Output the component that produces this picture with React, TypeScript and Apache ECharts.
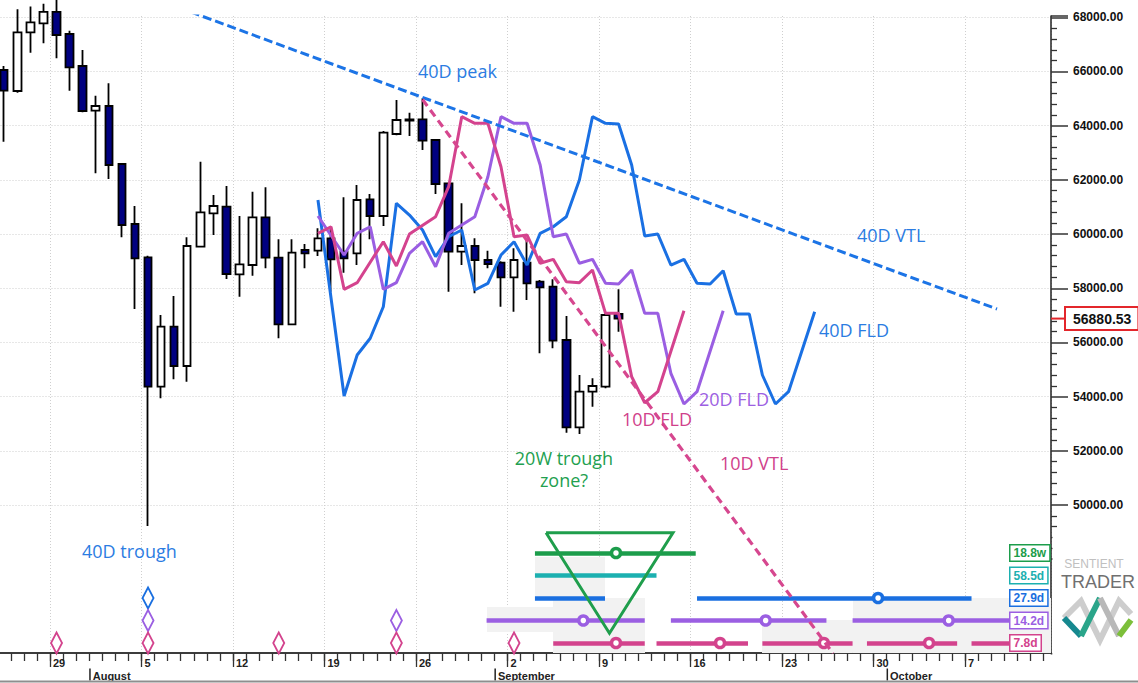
import { useEffect, useRef } from 'react';
import * as echarts from 'echarts';

// ---------- DATA ----------
const DAY0 = Date.UTC(2024, 6, 29); // 29 July 2024 = day 0
const toDay = (iso: string) => Math.round((Date.parse(iso + 'T00:00:00Z') - DAY0) / 86400000);

const candleDates = [
  '2024-07-25', '2024-07-26', '2024-07-27', '2024-07-28', '2024-07-29', '2024-07-30', '2024-07-31',
  '2024-08-01', '2024-08-02', '2024-08-03', '2024-08-04', '2024-08-05', '2024-08-06', '2024-08-07',
  '2024-08-08', '2024-08-09', '2024-08-10', '2024-08-11', '2024-08-12', '2024-08-13', '2024-08-14',
  '2024-08-15', '2024-08-16', '2024-08-17', '2024-08-18', '2024-08-19', '2024-08-20', '2024-08-21',
  '2024-08-22', '2024-08-23', '2024-08-24', '2024-08-25', '2024-08-26', '2024-08-27', '2024-08-28',
  '2024-08-29', '2024-08-30', '2024-08-31',
  '2024-09-01', '2024-09-02', '2024-09-03', '2024-09-04', '2024-09-05', '2024-09-06', '2024-09-07',
  '2024-09-08', '2024-09-09', '2024-09-10',
];
const opens = [
  66055, 65280, 67446, 67779, 68200, 67384, 66203,
  64553, 64726, 62586, 60371, 59142, 54366, 56581, 55130, 59533, 60766,
  61009, 58515, 58858, 60618, 59127, 56669, 59411, 59386, 59843, 59349,
  59290, 61283, 60667, 63693, 64184, 64235, 63471, 61873, 59349, 59559, 59042,
  58943, 58404, 58943, 58241, 58057, 56090, 52868, 54182, 54366, 57049,
];
const closes = [
  65291, 67446, 67815, 68200, 67347, 66155, 64542,
  64726, 62549, 60334, 59105, 54366, 56581, 55130, 59559, 60803, 61035,
  58526, 58884, 60618, 59127, 56669, 59312, 59290, 59843, 59068, 59105,
  61257, 60667, 63741, 64210, 64235, 63446, 61847, 59349, 59559, 59042, 58895,
  58404, 59042, 58182, 58035, 56064, 52868, 54182, 54392, 57012, 56880.53,
];
const lows = [
  63409, 65217, 66693, 67040, 66487, 65291, 64500,
  62242, 62032, 59880, 57234, 49225, 53938, 54640, 54551, 59500, 59965,
  58341, 57688, 58463, 58736, 56153, 56643, 58736, 59190, 57872, 58574,
  58858, 59806, 60297, 63650, 63619, 63102, 61478, 57872, 58858, 57813, 58736,
  57319, 57134, 57566, 55599, 55784, 52668, 52621, 53628, 54307, 56396,
];
const highs = [
  66200, 68300, 68400, 68500, 69000, 67505, 66793,
  65106, 65564, 62600, 61035, 59200, 57012, 57714, 59880, 62671, 61441,
  61774, 60666, 61563, 61726, 59806, 59806, 59633, 60212, 60223, 61357,
  61811, 61478, 63800, 64948, 64479, 65010, 63500, 61900, 61135, 59843, 59386,
  59000, 59474, 59781, 58300, 58330, 56975, 54798, 54676, 57100, 57961,
];

const fldStart = '2024-08-18';
const fld40Values = [
  61257, null, 54023, 55536, 56153, 57319, 61135, 60703, 60150, 59164,
  59902, 60150, 57935, 58182, 59227, 59718, 58858, 60028, 60271, 60640,
  61995, 64331, 64088, 64063, 62549, 59928, 60002, 58858, 59068, 58182,
  58157, 58648, 57049, 57049, 54798, 53728, 54182, null, 57134,
];
const fld20Values = [
  60666, null, 59227, 60028, 60271, 57961, 58205, 59290, 59718, 58795,
  60028, 60334, 60640, 62117, 64331, 64088, 64088, 62549, 59902, 60002,
  58921, 59068, 58182, 58157, 58673, 57075, 57075, 54861, 53728, 54182,
  null, 57171,
];
const fld10Values = [
  60028, 60271, 57961, 58205, null, 59718, 58821, 60002, null, 60640,
  61748, 64331, 64088, 64088, 62486, 59902, 59965, 58921, 59068, 58242,
  58205, 58673, 57075, 57075, 54735, 53774, 54182, null, 57171,
];

// valid trend lines: [day, price] end points
const vtl40Days = [0.5, 72.45];
const vtl40Prices = [70021, 57234];
const vtl10Days = [28.5, 59.9];
const vtl10Prices = [64966, 44526];

const priceTicks = [50000, 52000, 54000, 56000, 58000, 60000, 62000, 64000, 66000, 68000];
const lastPrice = 56880.53;

// cycle panel (rows: 0 = 7.8d ... 4 = 18.8w), x in days from 29 July
const cycleLabels = ['7.8d', '14.2d', '27.9d', '58.5d', '18.8w'];
const cycleColors = ['#d3438d', '#9b5fe2', '#1a6fe0', '#1cb0b0', '#1c9d4b'];
const cycleBars = [
  [[38.5, 45.5], [46.4, 53.4], [54.5, 61.4], [62.5, 69.4], [70.5, 73.5]],
  [[33.4, 45.5], [47.5, 59.4], [61.4, 73.5]],
  [[37.1, 42.46], [49.5, 70.5]],
  [[37.1, 46.4]],
  [[37.1, 49.4]],
];
const cycleMarkers = [[43.3, 51.26, 59.2, 67.25], [40.8, 54.75, 68.75], [63.35], [], [43.3]];
const troughDays = [[0, 7, 17, 26, 35], [7, 26], [7], [], []];
const shadeRects = [
  [37.1, 3.822, 42.46, 2.0],
  [33.43, 1.6, 38.48, 0.489],
  [38.48, 2.0, 45.52, -0.444],
  [54.47, 1.022, 61.43, -0.444],
  [61.43, 2.0, 76.58, -0.444],
];
const troughTriangle = [[37.95, 4.902], [47.66, 4.902], [42.8, 0.431], [37.95, 4.902]];

// ---------- CHART ----------
const X_MIN = -7;
const X_MAX = 76.58;
const AXIS_FONT = '"Liberation Sans", Arial, sans-serif';
const ANN_FONT = '18px "Open Sans", "Noto Sans", sans-serif';
const BLUE = '#1a70e3';
const PURPLE = '#9a5ee2';
const PINK = '#d4438e';
const GREEN = '#1f9e4c';
const GRID_LINE = { color: '#cfcfcf', width: 1, type: [1, 2] };
const MONTHS = ['January', 'February', 'March', 'April', 'May', 'June', 'July', 'August', 'September', 'October', 'November', 'December'];

const fldSeries = (values: (number | null)[], color: string, z: number) => ({
  type: 'line',
  xAxisIndex: 0,
  yAxisIndex: 0,
  data: values.map((v, i) => [toDay(fldStart) + i + 0.5, v]),
  connectNulls: true,
  symbol: 'none',
  lineStyle: { color, width: 3 },
  z,
});

function buildOption() {
  const series: any[] = [];
  series.push({
    type: 'candlestick',
    xAxisIndex: 0,
    yAxisIndex: 0,
    barWidth: 8,
    data: candleDates.map((d, i) => [toDay(d) + 0.5, opens[i], closes[i], lows[i], highs[i]]),
    itemStyle: { color: '#ffffff', color0: '#000080', borderColor: '#000', borderColor0: '#000', borderWidth: 1.8 },
    z: 2,
  });
  series.push(fldSeries(fld40Values, BLUE, 3));
  series.push(fldSeries(fld20Values, PURPLE, 4));
  series.push(fldSeries(fld10Values, PINK, 5));
  series.push({
    type: 'line', xAxisIndex: 0, yAxisIndex: 0,
    data: vtl40Days.map((d, i) => [d, vtl40Prices[i]]),
    symbol: 'none',
    lineStyle: { color: '#1c74e6', width: 3, type: [9, 4] },
    z: 8,
  });
  series.push({
    type: 'line', xAxisIndex: 0, yAxisIndex: 0,
    data: vtl10Days.map((d, i) => [d, vtl10Prices[i]]),
    symbol: 'none',
    clip: false,
    lineStyle: { color: '#d6478f', width: 3.2, type: [8, 5] },
    z: 12,
  });
  // panel shading
  series.push({
    type: 'line', xAxisIndex: 1, yAxisIndex: 1, data: [], symbol: 'none', z: 1,
    markArea: {
      silent: true,
      itemStyle: { color: '#f2f2f2' },
      data: shadeRects.map((r) => [{ coord: [r[0], r[1]] }, { coord: [r[2], r[3]] }]),
    },
  });
  cycleBars.forEach((segs, k) => {
    series.push({
      type: 'lines', coordinateSystem: 'cartesian2d', xAxisIndex: 1, yAxisIndex: 1,
      data: segs.map((s) => ({ coords: [[s[0], k], [s[1], k]] })),
      lineStyle: { color: cycleColors[k], width: 4.5, opacity: 1 },
      z: 4,
    });
    if (cycleMarkers[k].length) {
      series.push({
        type: 'scatter', xAxisIndex: 1, yAxisIndex: 1,
        data: cycleMarkers[k].map((x) => [x, k]),
        symbol: 'circle', symbolSize: 9,
        itemStyle: { color: '#fff', borderColor: cycleColors[k], borderWidth: 3.5, opacity: 1 },
        z: 6,
      });
    }
    if (troughDays[k].length) {
      series.push({
        type: 'scatter', xAxisIndex: 1, yAxisIndex: 1,
        data: troughDays[k].map((d) => [d + 0.5, k]),
        symbol: 'diamond', symbolSize: [11, 21],
        itemStyle: { color: '#fff', borderColor: cycleColors[k], borderWidth: 2, opacity: 1 },
        z: 6 - k * 0.1,
      });
    }
  });
  series.push({
    type: 'line', xAxisIndex: 1, yAxisIndex: 1,
    data: troughTriangle,
    symbol: 'none',
    lineStyle: { color: GREEN, width: 3, join: 'miter' },
    z: 9,
  });

  const dayText = (v: number) => new Date(DAY0 + Math.round(v) * 86400000);
  return {
    animation: false,
    backgroundColor: '#ffffff',
    textStyle: { fontFamily: AXIS_FONT },
    grid: [
      { left: -41.5, right: 87, top: 16, bottom: 123.8, containLabel: false, outerBoundsMode: 'none' },
      { left: -41.5, right: 87, top: 16, bottom: 30, containLabel: false, outerBoundsMode: 'none' },
    ],
    xAxis: [
      { gridIndex: 0, type: 'value', min: X_MIN, max: X_MAX, show: false },
      {
        gridIndex: 1, type: 'value', min: X_MIN, max: X_MAX, interval: 1, position: 'bottom',
        axisLine: { show: true, onZero: false, lineStyle: { color: '#3c3c3c', width: 2 } },
        axisTick: { show: true, length: 8, lineStyle: { color: '#333', width: 1.3 } },
        axisLabel: { show: false }, splitLine: { show: false },
      },
      {
        gridIndex: 1, type: 'value', min: X_MIN, max: X_MAX, interval: 7, position: 'bottom',
        axisLine: { show: false, onZero: false },
        axisTick: { show: true, length: 14, lineStyle: { color: '#333', width: 1.3 } },
        axisLabel: {
          show: true, margin: 4, align: 'left', padding: [0, 0, 0, 3],
          fontSize: 11, fontWeight: 'bold', color: '#222', fontFamily: AXIS_FONT,
          formatter: (v: number) => (v < 0 || Math.abs(v - Math.round(v)) > 1e-6 ? '' : String(dayText(v).getUTCDate())),
        },
        splitLine: { show: true, lineStyle: GRID_LINE },
      },
      {
        gridIndex: 1, type: 'value', min: X_MIN, max: X_MAX, interval: 1, position: 'bottom',
        axisLine: { show: false, onZero: false }, axisTick: { show: false }, splitLine: { show: false },
        axisLabel: {
          show: true, margin: 15, align: 'left',
          formatter: (v: number) => {
            if (v < 0 || Math.abs(v - Math.round(v)) > 1e-6) return '';
            const d = dayText(v);
            return d.getUTCDate() === 1 ? `{bar|}{m|${MONTHS[d.getUTCMonth()]}}` : '';
          },
          rich: {
            bar: { width: 1.5, height: 12, backgroundColor: '#222' },
            m: { fontSize: 11, fontWeight: 'bold', color: '#222', fontFamily: AXIS_FONT, padding: [2, 0, 0, 2] },
          },
        },
      },
    ],
    yAxis: [
      {
        gridIndex: 0, type: 'value', position: 'right', min: 48000, max: 68048, interval: 2000,
        axisLine: { show: false, onZero: false },
        axisTick: { show: true, length: 17, lineStyle: { color: '#333', width: 1.5 } },
        minorTick: { show: true, splitNumber: 5, length: 6, lineStyle: { color: '#333', width: 1.3 } },
        axisLabel: {
          margin: 22, color: '#111', fontWeight: 'bold', fontSize: 12, fontFamily: AXIS_FONT,
          formatter: (v: number) => (priceTicks.indexOf(v) >= 0 ? v.toFixed(2) : ''),
        },
        splitLine: { show: true, showMinLine: false, showMaxLine: false, lineStyle: GRID_LINE },
      },
      {
        gridIndex: 1, type: 'value', position: 'right', min: -0.4444, max: 27.867,
        axisLine: { show: true, onZero: false, lineStyle: { color: '#222', width: 1.5 } },
        axisTick: { show: false }, axisLabel: { show: false }, splitLine: { show: false },
      },
    ],
    series,
  };
}

function buildGraphics(chart: any) {
  const g: any[] = [];
  // hide tick marks under the price panel
  g.push({ type: 'rect', z: 50, silent: true, shape: { x: 1052.5, y: 532, width: 26, height: 31 }, style: { fill: '#fff' } });
  g.push({ type: 'rect', z: 50, silent: true, shape: { x: 1047.5, y: 654.5, width: 10, height: 16 }, style: { fill: '#fff' } });
  g.push({ type: 'line', z: 50, silent: true, shape: { x1: 0, y1: 681.5, x2: 1138, y2: 681.5 }, style: { stroke: '#8e8e8e', lineWidth: 2 } });

  const ann: [string, number, number, string, string][] = [
    ['40D peak', 418, 71, '#2b7ce2', 'left'],
    ['40D trough', 82, 551, '#2b7ce2', 'left'],
    ['40D VTL', 857, 235, '#2b7ce2', 'left'],
    ['40D FLD', 819, 330, '#2b7ce2', 'left'],
    ['20D FLD', 699, 399, '#9c60e2', 'left'],
    ['10D FLD', 622, 419, '#d0418b', 'left'],
    ['10D VTL', 720, 463, '#d0418b', 'left'],
    ['20W trough', 564, 458, '#22a04f', 'center'],
    ['zone?', 564, 480, '#22a04f', 'center'],
  ];
  ann.forEach(([t, x, y, c, a]) => {
    g.push({ type: 'text', z: 60, x, y, style: { text: t, fill: c, font: ANN_FONT, align: a, verticalAlign: 'middle' } });
  });

  // cycle length boxes
  cycleLabels.forEach((t, k) => {
    const y = chart.convertToPixel({ yAxisIndex: 1 }, k);
    g.push({
      type: 'text', z: 60, x: 1010.5, y,
      style: {
        text: t, fill: cycleColors[k], font: `bold 12px ${AXIS_FONT}`, align: 'left', verticalAlign: 'middle',
        backgroundColor: '#fff', borderColor: cycleColors[k], borderWidth: 1.5, padding: [2, 3, 1, 3],
      },
    });
  });

  // last price tag
  const py = chart.convertToPixel({ yAxisIndex: 0 }, lastPrice);
  g.push({ type: 'line', z: 60, shape: { x1: 1051, y1: py, x2: 1066, y2: py }, style: { stroke: '#e3262b', lineWidth: 2 } });
  g.push({
    type: 'text', z: 61, x: 1066, y: py,
    style: {
      text: lastPrice.toFixed(2), fill: '#111', font: `bold 14px ${AXIS_FONT}`, align: 'left', verticalAlign: 'middle',
      backgroundColor: '#fff', borderColor: '#e3262b', borderWidth: 2, padding: [4, 6, 3, 7],
    },
  });

  // logo
  g.push({ type: 'text', z: 60, x: 1094, y: 564, style: { text: 'SENTIENT', fill: '#c0c0c0', font: `12px ${AXIS_FONT}`, align: 'center', verticalAlign: 'middle' } });
  g.push({ type: 'text', z: 60, x: 1098, y: 582, style: { text: 'TRADER', fill: '#707070', font: `18px ${AXIS_FONT}`, align: 'center', verticalAlign: 'middle' } });
  g.push({ type: 'polyline', z: 60, shape: { points: [[1064, 618], [1081, 601], [1100, 640], [1119, 601], [1131, 614]] }, style: { stroke: '#cdcdcd', lineWidth: 6, fill: null } });
  g.push({ type: 'polyline', z: 61, shape: { points: [[1064, 618], [1081, 636]] }, style: { stroke: '#16888f', lineWidth: 6, fill: null } });
  g.push({ type: 'polyline', z: 61, shape: { points: [[1081, 636], [1100, 598]] }, style: { stroke: '#2aa58a', lineWidth: 6, fill: null } });
  g.push({ type: 'polyline', z: 61, shape: { points: [[1100, 598], [1119, 636]] }, style: { stroke: '#b8b8b8', lineWidth: 6, fill: null } });
  g.push({ type: 'polyline', z: 61, shape: { points: [[1119, 636], [1131, 620]] }, style: { stroke: '#7cbf3a', lineWidth: 6, fill: null } });
  return g;
}

export default function App() {
  const ref = useRef<HTMLDivElement>(null);
  useEffect(() => {
    const el = ref.current;
    if (!el) return;
    const chart = echarts.init(el, null, { renderer: 'svg' });
    chart.setOption(buildOption() as any);
    chart.setOption({ graphic: buildGraphics(chart) } as any);
    return () => chart.dispose();
  }, []);
  return (
    <div
      ref={ref}
      style={{ position: 'fixed', left: 0, top: 0, width: 1138, height: 683, background: '#fff' }}
    />
  );
}
